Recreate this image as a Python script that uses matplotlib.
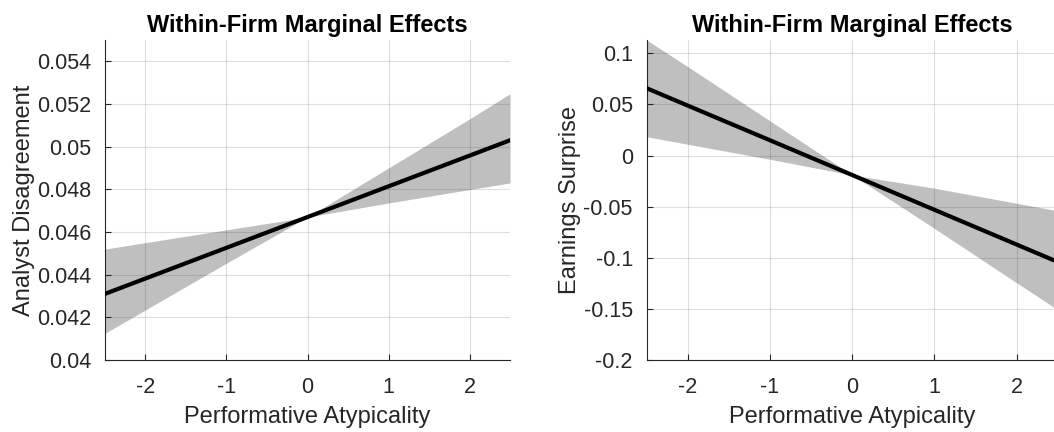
import matplotlib.pyplot as plt
import numpy as np

plt.rcParams['font.family'] = ['Liberation Sans', 'DejaVu Sans']

# atypicality grid
x = [-2.5, -2, -1, 0, 1, 2, 2.5]

# left panel: analyst disagreement
disagree = [0.0431, 0.04382, 0.04526, 0.0467, 0.04814, 0.04958, 0.0503]
disagree_hi = [0.0452, 0.0455, 0.0461, 0.0467, 0.0490, 0.0513, 0.05248]
disagree_lo = [0.04125, 0.04235, 0.04454, 0.0467, 0.04736, 0.04799, 0.0483]

# right panel: earnings surprise
surprise = [0.0658, 0.0488, 0.0149, -0.0191, -0.0531, -0.0871, -0.1041]
surprise_hi = [0.113, 0.0869, 0.0338, -0.0191, -0.032, -0.0467, -0.0541]
surprise_lo = [0.0184, 0.0110, -0.0037, -0.0191, -0.0713, -0.1245, -0.151]

xticks = [-2, -1, 0, 1, 2]
yticks_l = [0.04, 0.042, 0.044, 0.046, 0.048, 0.05, 0.052, 0.054]
yticks_l_lab = ['0.04', '0.042', '0.044', '0.046', '0.048', '0.05', '0.052', '0.054']
yticks_r = [-0.2, -0.15, -0.1, -0.05, 0, 0.05, 0.1]
yticks_r_lab = ['-0.2', '-0.15', '-0.1', '-0.05', '0', '0.05', '0.1']

txt = (0.15, 0.15, 0.15)

fig = plt.figure(figsize=(10.54, 4.32), dpi=100)
ax1 = fig.add_axes([0.0996, 0.1667, 0.3843, 0.7407])
ax2 = fig.add_axes([0.6136, 0.1667, 0.3900, 0.7407])


def style(ax, yt, ylab, ylabel, ylim):
    ax.set_xlim(-2.5, 2.5)
    ax.set_ylim(*ylim)
    ax.set_xticks(xticks)
    ax.set_xticklabels([str(t) for t in xticks])
    ax.set_yticks(yt)
    ax.set_yticklabels(ylab)
    ax.grid(True, color=(0.15, 0.15, 0.15), alpha=0.15, linewidth=0.8)
    ax.set_axisbelow(False)
    for s in ['top', 'right']:
        ax.spines[s].set_visible(False)
    for s in ['left', 'bottom']:
        ax.spines[s].set_color(txt)
        ax.spines[s].set_linewidth(0.8)
    ax.tick_params(direction='in', length=4, width=0.8, colors=txt,
                   labelsize=15.5)
    ax.tick_params(axis='y', pad=10)
    ax.tick_params(axis='x', pad=12)
    ax.set_xlabel('Performative Atypicality', fontsize=17, color=txt, labelpad=6)
    ax.set_ylabel(ylabel, fontsize=17, color=txt, labelpad=1.5)
    ax.set_title('Within-Firm Marginal Effects', fontsize=17,
                 fontweight='bold', pad=6)


ax1.fill_between(x, disagree_lo, disagree_hi, color=(0.75, 0.75, 0.75),
                 linewidth=0, zorder=1)
ax1.plot(x, disagree, color='black', linewidth=3, zorder=3)
style(ax1, yticks_l, yticks_l_lab, 'Analyst Disagreement', (0.04, 0.055))

ax2.fill_between(x, surprise_lo, surprise_hi, color=(0.75, 0.75, 0.75),
                 linewidth=0, zorder=1)
ax2.plot(x, surprise, color='black', linewidth=3, zorder=3)
style(ax2, yticks_r, yticks_r_lab, 'Earnings Surprise', (-0.2, 0.113))

fig.savefig('out.png', dpi=100)
